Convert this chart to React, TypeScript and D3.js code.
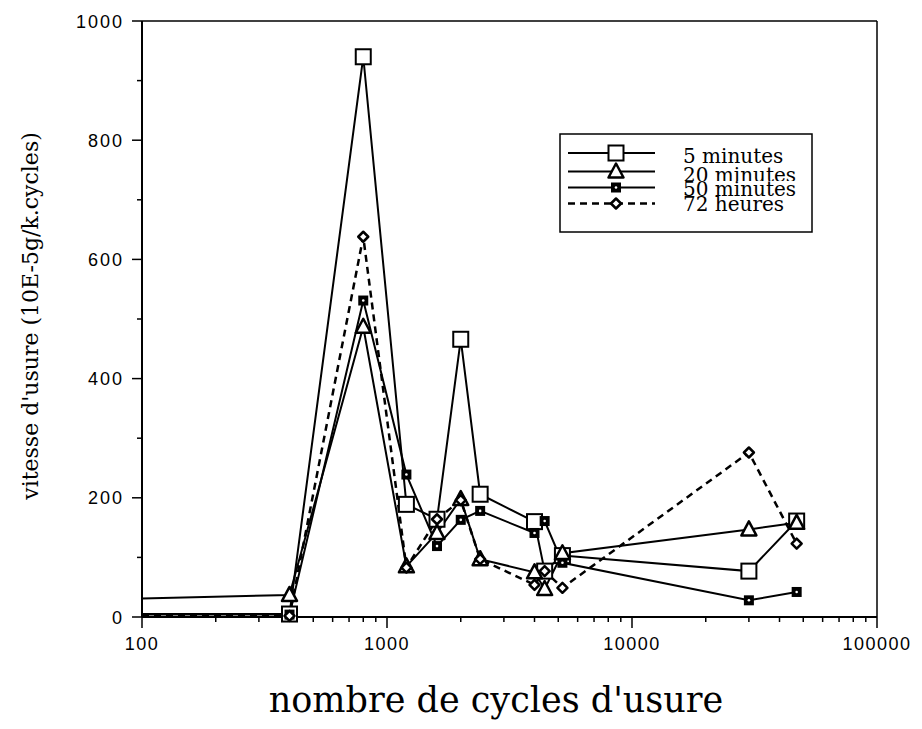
import React from 'react';
import * as d3 from 'd3';

// cycles d'usure (shared by all four series)
const cycles = [100, 400, 800, 1200, 1600, 2000, 2400, 4000, 4400, 5200, 30000, 47000];

// vitesse d'usure, 10E-5 g / k.cycles
const min5 = [5, 5, 940, 189, 164, 466, 206, 160, 77, 103, 77, 161];
const min20 = [31, 37, 487, 85, 141, 198, 97, 75, 47, 107, 147, 158];
const min50 = [4, 4, 531, 239, 119, 163, 178, 141, 161, 91, 28, 42];
const h72 = [3, 2, 638, 83, 164, 196, 97, 54, 77, 49, 276, 123];

const legendLabels = ['5 minutes', '20 minutes', '50 minutes', '72 heures'];
const xTickLabels = [100, 1000, 10000, 100000];
const yTickLabels = [0, 200, 400, 600, 800, 1000];

type Marker = 'square' | 'triangle' | 'filled' | 'diamond';

const Symbol: React.FC<{ x: number; y: number; kind: Marker }> = ({ x, y, kind }) => {
  if (kind === 'square') {
    return <rect x={x - 7.5} y={y - 7.5} width={15} height={15} fill="white" stroke="black" strokeWidth={2} />;
  }
  if (kind === 'triangle') {
    return <path d={`M ${x} ${y - 8} L ${x + 7.5} ${y + 6} L ${x - 7.5} ${y + 6} Z`} fill="white" stroke="black" strokeWidth={2.5} strokeLinejoin="round" />;
  }
  if (kind === 'filled') {
    return (
      <g>
        <rect x={x - 5} y={y - 5} width={10} height={10} fill="black" />
        <circle cx={x} cy={y} r={1.3} fill="white" />
      </g>
    );
  }
  return <path d={`M ${x} ${y - 5} L ${x + 5} ${y} L ${x} ${y + 5} L ${x - 5} ${y} Z`} fill="white" stroke="black" strokeWidth={2.5} strokeLinejoin="round" />;
};

const App: React.FC = () => {
  const width = 922;
  const height = 729;
  const left = 142;
  const right = 877;
  const top = 21;
  const bottom = 617;

  const x = d3.scaleLog().domain([100, 100000]).range([left, right]);
  const y = d3.scaleLinear().domain([0, 1000]).range([bottom, top]);

  const series: { values: number[]; kind: Marker; dashed: boolean }[] = [
    { values: min5, kind: 'square', dashed: false },
    { values: min20, kind: 'triangle', dashed: false },
    { values: min50, kind: 'filled', dashed: false },
    { values: h72, kind: 'diamond', dashed: true },
  ];

  const line = d3.line<number>().x((_, i) => x(cycles[i])).y(d => y(d));

  const minorX: number[] = [];
  for (let dec = 100; dec < 100000; dec *= 10) {
    for (let k = 2; k <= 9; k++) minorX.push(dec * k);
  }
  const minorY = d3.range(100, 1000, 200);

  // legend layout
  const lgX = 560;
  const lgY = 134;
  const lgLineY = [153, 171.5, 187.5, 203.5];
  const lgTextY = [163, 182, 196, 211];

  return (
    <svg width={width} height={height} style={{ display: 'block', position: 'absolute', left: 0, top: 0 }}>
      <rect width={width} height={height} fill="white" />

      {/* frame */}
      <line x1={left} y1={top} x2={right} y2={top} stroke="black" strokeWidth={1.5} />
      <line x1={right} y1={top} x2={right} y2={bottom} stroke="black" strokeWidth={1.5} />
      <line x1={left} y1={top} x2={left} y2={bottom} stroke="black" strokeWidth={2} />
      <line x1={left} y1={bottom} x2={right} y2={bottom} stroke="black" strokeWidth={2} />

      {/* y ticks */}
      {yTickLabels.map(t => (
        <g key={`y-${t}`}>
          <line x1={left - 10} x2={left} y1={y(t)} y2={y(t)} stroke="black" strokeWidth={1.5} />
          <text x={left - 18} y={y(t) + 6.5} textAnchor="end" fontFamily="Liberation Sans, Arial, sans-serif" fontSize={18} letterSpacing={2}>{t}</text>
        </g>
      ))}
      {minorY.map(t => (
        <line key={`ym-${t}`} x1={left - 5} x2={left} y1={y(t)} y2={y(t)} stroke="black" strokeWidth={1.5} />
      ))}

      {/* x ticks */}
      {xTickLabels.map(t => (
        <g key={`x-${t}`}>
          <line x1={x(t)} x2={x(t)} y1={bottom} y2={bottom + 11} stroke="black" strokeWidth={1.5} />
          <text x={x(t)} y={bottom + 33} textAnchor="middle" fontFamily="Liberation Sans, Arial, sans-serif" fontSize={18} letterSpacing={1.5}>{t}</text>
        </g>
      ))}
      {minorX.map(t => (
        <line key={`xm-${t}`} x1={x(t)} x2={x(t)} y1={bottom} y2={bottom + 5} stroke="black" strokeWidth={1.5} />
      ))}

      {/* axis titles */}
      <text x={496} y={712} textAnchor="middle" fontFamily="DejaVu Serif, serif" fontSize={35}>nombre de cycles d'usure</text>
      <text transform="translate(38, 316) rotate(-90)" textAnchor="middle" fontFamily="DejaVu Serif, serif" fontSize={22}>vitesse d'usure (10E-5g/k.cycles)</text>

      {/* series lines */}
      {series.map((s, si) => (
        <path key={`l-${si}`} d={line(s.values) || ''} fill="none" stroke="black" strokeWidth={s.dashed ? 2.5 : 2} strokeDasharray={s.dashed ? '7,5' : undefined} />
      ))}
      {/* markers (no marker on the first point at 100 cycles) */}
      {series.map((s, si) => (
        <g key={`m-${si}`}>
          {s.values.map((v, i) => (i === 0 ? null : <Symbol key={i} x={x(cycles[i])} y={y(v)} kind={s.kind} />))}
        </g>
      ))}

      {/* legend */}
      <rect x={lgX} y={lgY} width={252} height={98} fill="white" stroke="black" strokeWidth={1.5} />
      {series.map((s, i) => (
        <g key={`lg-${i}`}>
          <line x1={lgX + 8} x2={lgX + 95} y1={lgLineY[i]} y2={lgLineY[i]} stroke="black" strokeWidth={s.dashed ? 2.5 : 2} strokeDasharray={s.dashed ? '7,5' : undefined} />
          <Symbol x={lgX + 56} y={lgLineY[i]} kind={s.kind} />
        </g>
      ))}
      {legendLabels.map((l, i) => (
        <g key={`lt-${i}`}>
          {i > 0 && <rect x={lgX + 118} y={lgTextY[i] - 15} width={125} height={19} fill="white" />}
          <text x={lgX + 123} y={lgTextY[i]} fontFamily="DejaVu Serif, serif" fontSize={20}>{l}</text>
        </g>
      ))}
    </svg>
  );
};

export default App;
